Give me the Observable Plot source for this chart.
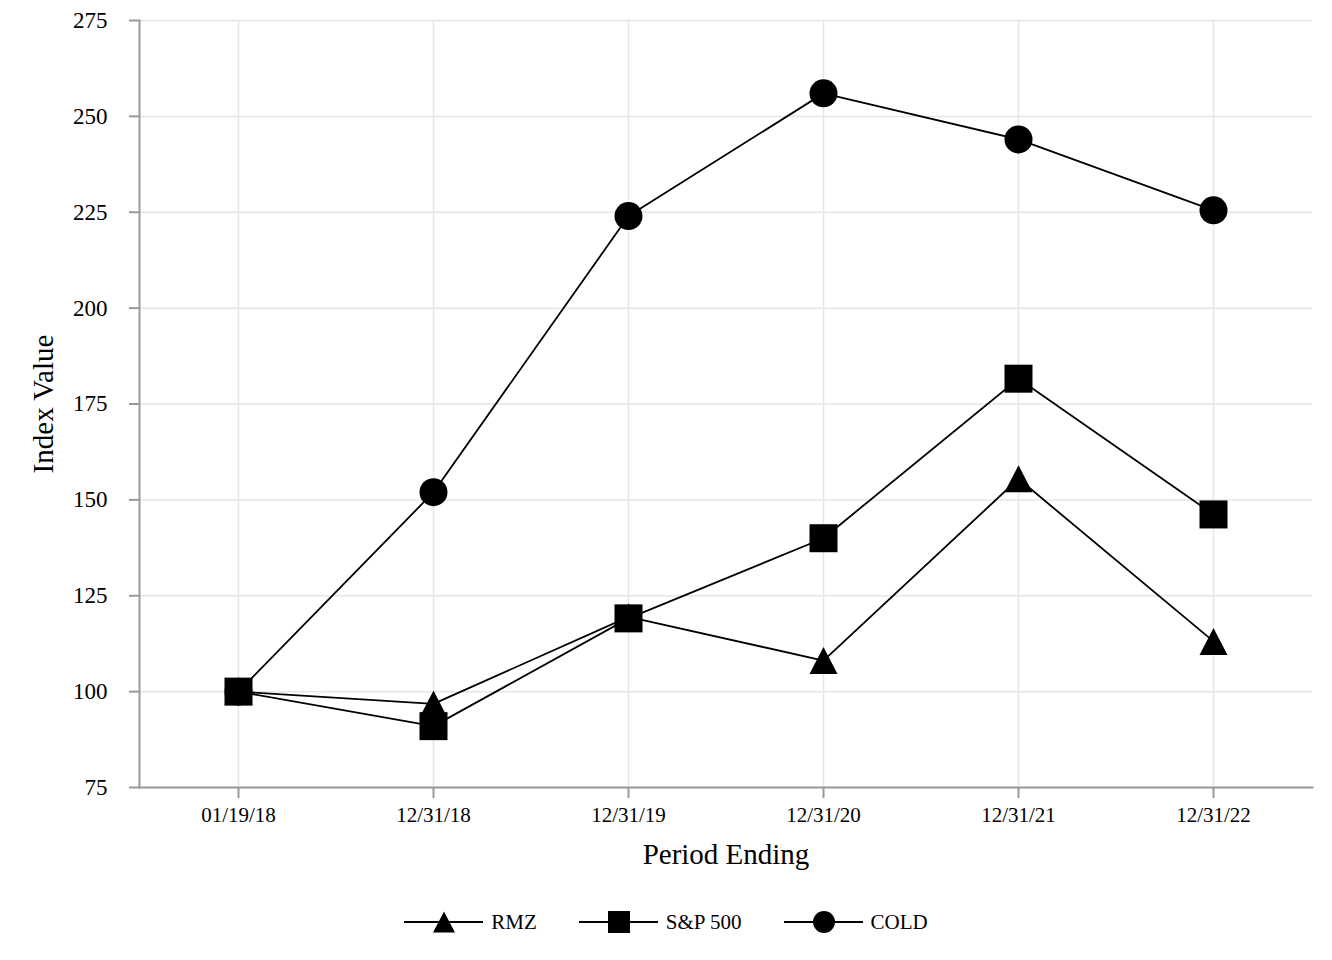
<!DOCTYPE html>
<html>
<head>
<meta charset="utf-8">
<script src="https://cdn.jsdelivr.net/npm/d3@7"></script>
<script src="https://cdn.jsdelivr.net/npm/@observablehq/plot@0.6"></script>
<style>
  body { margin: 0; background: #fff; font-family: "Liberation Serif", "Times New Roman", serif; }
  #chart { width: 1332px; height: 880px; }
  #legend { width: 1332px; height: 80px; display: flex; justify-content: center; align-items: center; box-sizing: border-box; padding-top: 4px; }
  .item { display: flex; align-items: center; margin: 0 21px; }
  .item svg { display: block; margin-right: 8px; }
  .item span { font-size: 21px; color: #000; line-height: 1; }
</style>
</head>
<body>
<div id="chart"></div>
<div id="legend"></div>
<script>
// ---- data ----
const periods = ["01/19/18", "12/31/18", "12/31/19", "12/31/20", "12/31/21", "12/31/22"];
const rmz   = [100, 96.8, 119.5, 108.1, 155.5, 113.1];
const sp500 = [100, 91.0, 119.1, 140.0, 181.6, 146.2];
const cold  = [100, 152.0, 224.0, 256.0, 244.0, 225.5];
const seriesNames = ["RMZ", "S&P 500", "COLD"];
const yTicks = [75, 100, 125, 150, 175, 200, 225, 250, 275];

const seriesValues = [rmz, sp500, cold];
const rows = seriesNames.flatMap((s, i) => periods.map((p, j) => ({series: s, period: p, value: seriesValues[i][j]})));

// ---- symbols ----
const triSym = {draw(ctx, size) { const r = Math.sqrt(size / Math.PI); const h = r * 0.964; ctx.moveTo(0, -h); ctx.lineTo(r, h); ctx.lineTo(-r, h); ctx.closePath(); }};
const sqSym  = {draw(ctx, size) { const r = Math.sqrt(size / Math.PI); ctx.rect(-r, -r, 2 * r, 2 * r); }};
const cirSym = {draw(ctx, size) { const r = Math.sqrt(size / Math.PI); ctx.moveTo(r, 0); ctx.arc(0, 0, r, 0, 2 * Math.PI); }};
const symbols = {"RMZ": triSym, "S&P 500": sqSym, "COLD": cirSym};

const gridColor = "#e6e6e6";
const axisColor = "#999";

const chart = Plot.plot({
  width: 1332,
  height: 880,
  marginLeft: 139,
  marginRight: 20,
  marginTop: 20,
  marginBottom: 93,
  style: {fontFamily: "Liberation Serif, Times New Roman, serif", color: "#000", background: "#fff", overflow: "visible"},
  x: {type: "point", domain: periods, padding: 0.5},
  y: {domain: [75, 275]},
  marks: [
    Plot.gridX(periods, {stroke: gridColor, strokeOpacity: 1, strokeWidth: 1.5}),
    Plot.gridY(yTicks, {stroke: gridColor, strokeOpacity: 1, strokeWidth: 1.5}),
    Plot.frame({anchor: "left", stroke: axisColor, strokeWidth: 2}),
    Plot.frame({anchor: "bottom", stroke: axisColor, strokeWidth: 2}),
    Plot.axisY(yTicks, {tickSize: 10, tickPadding: 22, fontSize: 23, stroke: axisColor, strokeWidth: 2, label: null}),
    Plot.axisX(periods, {tickSize: 11, tickPadding: 9, fontSize: 21, stroke: axisColor, strokeWidth: 2, label: null}),
    Plot.text(["Index Value"], {frameAnchor: "left", dx: -96, rotate: -90, textAnchor: "middle", fontSize: 29, fill: "#000"}),
    Plot.text(["Period Ending"], {frameAnchor: "bottom", dy: 76, textAnchor: "middle", fontSize: 29, fill: "#000"}),
    Plot.line(rows, {x: "period", y: "value", z: "series", stroke: "#000", strokeWidth: 1.8}),
    ...seriesNames.map(s => Plot.dot(rows.filter(d => d.series === s), {x: "period", y: "value", symbol: symbols[s], r: 14, fill: "#000", stroke: "none"}))
  ]
});
document.getElementById("chart").appendChild(chart);

// ---- legend ----
const legend = d3.select("#legend");
seriesNames.forEach(s => {
  const item = legend.append("div").attr("class", "item");
  const svg = item.append("svg").attr("width", 79).attr("height", 30);
  svg.append("line").attr("x1", 0).attr("x2", 79).attr("y1", 15).attr("y2", 15).attr("stroke", "#000").attr("stroke-width", 2);
  svg.append("path").attr("transform", "translate(40,15)").attr("d", d3.symbol(symbols[s], Math.PI * 121)()).attr("fill", "#000");
  item.append("span").text(s);
});
</script>
</body>
</html>
